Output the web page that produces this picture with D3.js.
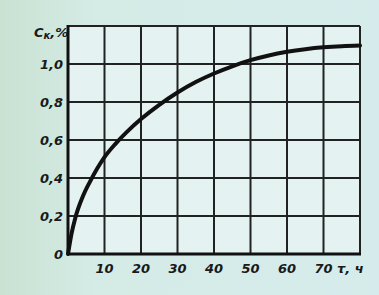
<!DOCTYPE html>
<html><head><meta charset="utf-8">
<script src="https://cdn.jsdelivr.net/npm/d3@7"></script>
<style>
html,body{margin:0;padding:0;background:#d3e9e4;}
svg{display:block;}
text{font-family:"DejaVu Sans",sans-serif;font-style:italic;font-weight:bold;fill:#1a1a1a;}
</style></head>
<body><svg id="c" width="379" height="295"></svg>
<script>
const timeH = [0,1,2,4,6,8,10,13,16,20,25,30,35,40,45,50,55,60,65,70,75,80];
const concPct = [0,0.11,0.19,0.30,0.38,0.45,0.51,0.58,0.64,0.71,0.785,0.85,0.905,0.95,0.988,1.02,1.045,1.064,1.078,1.088,1.094,1.097];
const xTicks = [10,20,30,40,50,60,70];
const xTickLabels = ["10","20","30","40","50","60","70"];
const yTicks = [0,0.2,0.4,0.6,0.8,1.0];
const yTickLabels = ["0","0,2","0,4","0,6","0,8","1,0"];
const xGrid = [10,20,30,40,50,60,70,80];
const yGrid = [0.2,0.4,0.6,0.8,1.0,1.2];

const svg = d3.select("#c");
const x = d3.scaleLinear().domain([0,80]).range([68,360]);
const y = d3.scaleLinear().domain([0,1.2]).range([254,26]);

// paper tint
const defs = svg.append("defs");
const g = defs.append("linearGradient").attr("id","bg").attr("x1","0").attr("x2","1");
g.append("stop").attr("offset","0").attr("stop-color","#c9e2d2");
g.append("stop").attr("offset","0.25").attr("stop-color","#d5ebe6");
g.append("stop").attr("offset","1").attr("stop-color","#d6ecec");
svg.append("rect").attr("width",379).attr("height",295).attr("fill","url(#bg)");
svg.append("rect").attr("x",x(0)).attr("y",y(1.2)).attr("width",x(80)-x(0)).attr("height",y(0)-y(1.2)).attr("fill","#e4f2f2");

// grid
svg.append("g").selectAll("line").data(xGrid).join("line")
  .attr("x1",d=>x(d)).attr("x2",d=>x(d)).attr("y1",y(0)).attr("y2",y(1.2))
  .attr("stroke","#222").attr("stroke-width",2);
svg.append("g").selectAll("line").data(yGrid).join("line")
  .attr("x1",x(0)).attr("x2",x(80)).attr("y1",d=>y(d)).attr("y2",d=>y(d))
  .attr("stroke","#222").attr("stroke-width",2);

// axes
svg.append("line").attr("x1",x(0)).attr("x2",x(0)).attr("y1",y(0)+1).attr("y2",y(1.2)-1).attr("stroke","#111").attr("stroke-width",3);
svg.append("line").attr("x1",x(0)-1).attr("x2",x(80)+1).attr("y1",y(0)).attr("y2",y(0)).attr("stroke","#111").attr("stroke-width",3);

// curve
const line = d3.line().x((d,i)=>x(timeH[i])).y(d=>y(d)).curve(d3.curveMonotoneX);
svg.append("path").attr("d",line(concPct)).attr("fill","none").attr("stroke","#111").attr("stroke-width",4).attr("stroke-linecap","round");

// tick labels
svg.append("g").selectAll("text").data(yTicks).join("text")
  .attr("x",63).attr("y",d=>y(d)+5).attr("text-anchor","end").attr("font-size",13)
  .text((d,i)=>yTickLabels[i]);
svg.append("g").selectAll("text").data(xTicks).join("text")
  .attr("x",d=>x(d)).attr("y",273).attr("text-anchor","middle").attr("font-size",13)
  .text((d,i)=>xTickLabels[i]);

// axis titles
const yt = svg.append("text").attr("x",34).attr("y",37).attr("font-size",13);
yt.append("tspan").text("C");
yt.append("tspan").attr("font-size",10).attr("dy",2).text("к");
yt.append("tspan").attr("dy",-2).text(",%");
svg.append("text").attr("x",337).attr("y",273).attr("font-size",13).text("τ, ч");
</script></body></html>
